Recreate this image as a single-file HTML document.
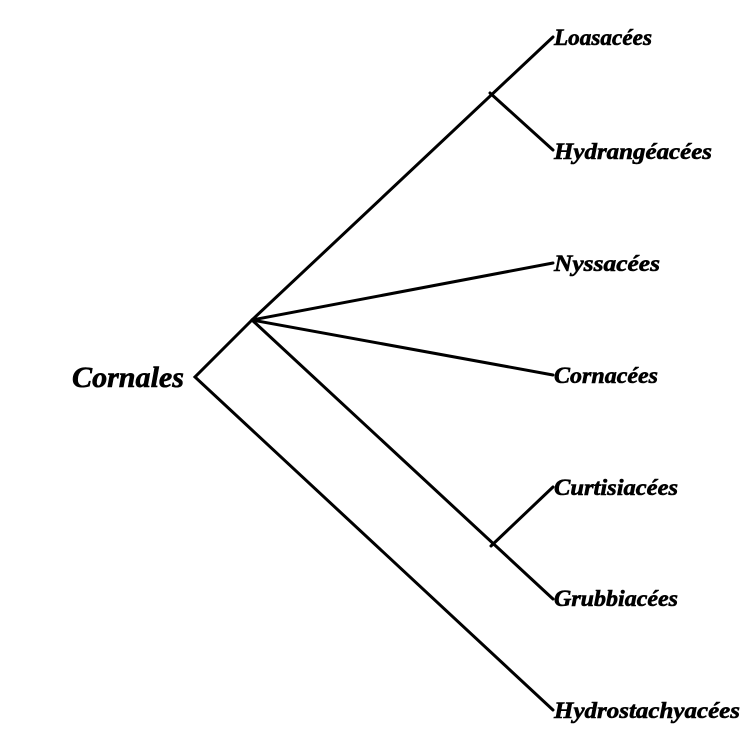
<!DOCTYPE html>
<html><head><meta charset="utf-8"><style>html,body{margin:0;padding:0;background:#fff}</style></head>
<body>
<svg width="750" height="750" viewBox="0 0 750 750" xmlns="http://www.w3.org/2000/svg">
<g stroke="#000" stroke-width="3" fill="none" stroke-linecap="round">
<polyline points="252,320 195,377 553,710"/>
<line x1="252" y1="320" x2="553" y2="37"/>
<line x1="490" y1="93" x2="553" y2="150"/>
<line x1="252" y1="320" x2="553" y2="263"/>
<line x1="252" y1="320" x2="553" y2="375"/>
<line x1="252" y1="320" x2="553" y2="599"/>
<line x1="491" y1="546" x2="553" y2="487"/>
</g>
<g font-family="Liberation Serif, serif" font-weight="bold" font-style="italic" font-size="23" fill="#000" stroke="#000" stroke-width="0.6">
<text x="554" y="45" textLength="98" lengthAdjust="spacingAndGlyphs">Loasacées</text>
<text x="554" y="159" textLength="158" lengthAdjust="spacingAndGlyphs">Hydrangéacées</text>
<text x="554" y="271" textLength="106" lengthAdjust="spacingAndGlyphs">Nyssacées</text>
<text x="554" y="383" textLength="104" lengthAdjust="spacingAndGlyphs">Cornacées</text>
<text x="554" y="495" textLength="124" lengthAdjust="spacingAndGlyphs">Curtisiacées</text>
<text x="554" y="606" textLength="124" lengthAdjust="spacingAndGlyphs">Grubbiacées</text>
<text x="554" y="718" textLength="186" lengthAdjust="spacingAndGlyphs">Hydrostachyacées</text>
<text x="72" y="387" font-size="30" textLength="112" lengthAdjust="spacingAndGlyphs">Cornales</text>
</g>
</svg>
</body></html>
